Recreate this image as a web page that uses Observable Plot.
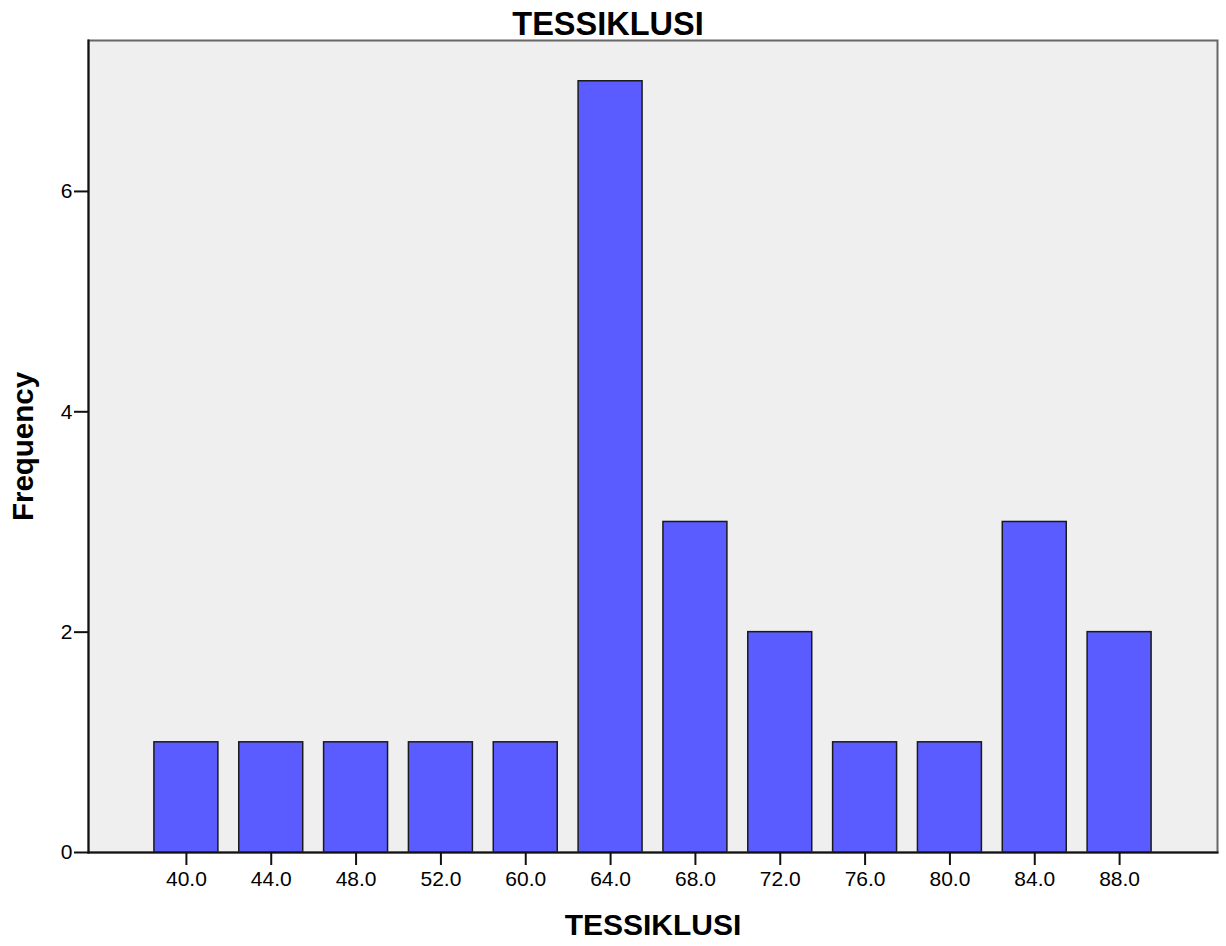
<!DOCTYPE html>
<html>
<head>
<meta charset="utf-8">
<script src="https://cdn.jsdelivr.net/npm/d3@7"></script>
<script src="https://cdn.jsdelivr.net/npm/@observablehq/plot@0.6"></script>
<style>
  html, body { margin: 0; padding: 0; background: #fff; }
  #chart svg { display: block; }
</style>
</head>
<body>
<div id="chart"></div>
<script>
const categories = ["40.0", "44.0", "48.0", "52.0", "60.0", "64.0", "68.0", "72.0", "76.0", "80.0", "84.0", "88.0"];
const frequencies = [1, 1, 1, 1, 1, 7, 3, 2, 1, 1, 3, 2];
const yTicks = [0, 2, 4, 6];
const title = "TESSIKLUSI";
const xLabel = "TESSIKLUSI";
const yLabel = "Frequency";

const data = categories.map((c, i) => ({cat: c, freq: frequencies[i]}));
const font = "'Liberation Sans', Arial, sans-serif";

const chart = Plot.plot({
  width: 1226,
  height: 946,
  marginTop: 40,
  marginRight: 9,
  marginBottom: 94,
  marginLeft: 88,
  style: {fontFamily: font, background: "#ffffff", color: "#000"},
  x: {domain: categories, paddingInner: 0.246, paddingOuter: 0.777, align: 0.5, round: false},
  y: {domain: [0, 7.37]},
  marks: [
    Plot.frame({fill: "#efefef", stroke: null}),
    Plot.barY(data, {x: "cat", y: "freq", fill: "#5a5cff", stroke: "#1a1a1a", strokeWidth: 1.5}),
    Plot.frame({stroke: "#666", strokeWidth: 2}),
    Plot.frame({anchor: "left", stroke: "#111", strokeWidth: 2}),
    Plot.frame({anchor: "bottom", stroke: "#111", strokeWidth: 2}),
    Plot.axisX({tickSize: 13, tickPadding: 6, fontSize: 21, label: null, stroke: "#111", strokeWidth: 2}),
    Plot.axisY({ticks: yTicks, tickFormat: d3.format("d"), tickSize: 14, tickPadding: 2, fontSize: 21, label: null, stroke: "#111", strokeWidth: 2}),
    Plot.axisY({ticks: [], label: yLabel, labelAnchor: "center", labelOffset: 76, labelArrow: false, fontSize: 29.5, fontWeight: "bold"}),
    Plot.text([xLabel], {text: d => d, frameAnchor: "bottom", lineAnchor: "top", dy: 61, fontSize: 30, fontWeight: "bold", fill: "#000"}),
    Plot.text([title], {text: d => d, frameAnchor: "top", lineAnchor: "middle", dx: -45, dy: -16, fontSize: 32.5, fontWeight: "bold", fill: "#000"})
  ]
});
document.getElementById("chart").appendChild(chart);
</script>
</body>
</html>
